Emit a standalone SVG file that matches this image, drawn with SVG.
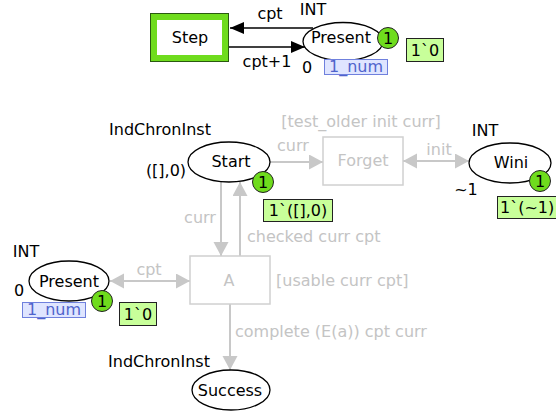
<svg xmlns="http://www.w3.org/2000/svg" width="556" height="417" viewBox="0 0 556 417">
<defs>
<marker id="ab" markerUnits="userSpaceOnUse" markerWidth="16" markerHeight="14" refX="14" refY="6" orient="auto-start-reverse"><path d="M0,0 L14,6 L0,12 Z" fill="#000"/></marker>
<marker id="ag" markerUnits="userSpaceOnUse" markerWidth="16" markerHeight="16" refX="14" refY="7.5" orient="auto-start-reverse"><path d="M0,0 L14,7.5 L0,15 Z" fill="#c8c8c8"/></marker>
<style>
text{font-family:"DejaVu Sans","Verdana",sans-serif;font-size:16px;fill:#000}
.g{fill:#c4c4c4}
.m{text-anchor:middle}
.place{fill:#fff;stroke:#000;stroke-width:1.3}
.trans{fill:#fff;stroke:#d0d0d0;stroke-width:1.5}
.tok{fill:#6fdc1d;stroke:#222;stroke-width:1}
.mark{fill:#c8ff9a;stroke:#222;stroke-width:1}
.fus{fill:#dfe5ff;stroke:#6f80dd;stroke-width:1}
.fust{fill:#4f63cc}
.cb{stroke:#000;stroke-width:1.5;fill:none}
.cg{stroke:#c8c8c8;stroke-width:2;fill:none}
</style>
</defs>
<g id="connectors">
<line class="cb" x1="313" y1="28" x2="230" y2="28" marker-end="url(#ab)"/>
<line class="cb" x1="229" y1="47" x2="305" y2="47" marker-end="url(#ab)"/>
<line class="cg" x1="270" y1="162" x2="323" y2="162" marker-end="url(#ag)"/>
<line class="cg" x1="403" y1="161" x2="469" y2="161" marker-start="url(#ag)" marker-end="url(#ag)"/>
<line class="cg" x1="221" y1="181" x2="221" y2="256" marker-end="url(#ag)"/>
<line class="cg" x1="240" y1="256" x2="240" y2="182" marker-end="url(#ag)"/>
<line class="cg" x1="110" y1="281" x2="190" y2="281" marker-start="url(#ag)" marker-end="url(#ag)"/>
<line class="cg" x1="230" y1="304" x2="230" y2="370" marker-end="url(#ag)"/>
<text x="270" y="19" class="m">cpt</text>
<text x="267" y="67" class="m">cpt+1</text>
<text x="277" y="151" class="g">curr</text>
<text x="439" y="155" class="g m">init</text>
<text x="200" y="223" class="g m">curr</text>
<text x="247" y="242" class="g">checked curr cpt</text>
<text x="149" y="275" class="g m">cpt</text>
<text x="235" y="337" class="g">complete (E(a)) cpt curr</text>
</g>
<g id="step">
<rect x="150.5" y="13.5" width="78" height="48" fill="#fff" stroke="#2a5a10" stroke-width="1"/>
<rect x="154" y="17" width="71" height="41" fill="none" stroke="#6fdc1d" stroke-width="6"/>
<text x="190" y="43" class="m">Step</text>
</g>
<g id="present-top">
<ellipse class="place" cx="343" cy="41.5" rx="40" ry="19"/>
<text x="341" y="43" class="m">Present</text>
<text x="313" y="15" class="m">INT</text>
<text x="307" y="73" class="m">0</text>
<rect class="fus" x="324.5" y="59.5" width="63" height="15"/>
<text x="356" y="72" class="m fust">1_num</text>
<circle class="tok" cx="388" cy="38" r="10.5"/>
<text x="388" y="44" class="m">1</text>
<rect class="mark" x="406.5" y="38.5" width="37" height="23"/>
<text x="425" y="56" class="m">1`0</text>
</g>
<g id="start">
<ellipse class="place" cx="229" cy="162" rx="41" ry="20"/>
<text x="231" y="167" class="m">Start</text>
<text x="160" y="135" class="m">IndChronInst</text>
<text x="166" y="176" class="m">([],0)</text>
<circle class="tok" cx="263" cy="182" r="10.5"/>
<text x="263" y="188" class="m">1</text>
<rect class="mark" x="263.5" y="199.5" width="69" height="22"/>
<text x="298" y="216" class="m">1`([],0)</text>
</g>
<g id="forget">
<rect class="trans" x="323" y="137" width="80" height="48"/>
<text x="363" y="166" class="g m">Forget</text>
<text x="361" y="127" class="g m">[test_older init curr]</text>
</g>
<g id="wini">
<ellipse class="place" cx="510" cy="163" rx="41" ry="20"/>
<text x="511" y="168" class="m">Wini</text>
<text x="485" y="136" class="m">INT</text>
<text x="466" y="195" class="m">~1</text>
<circle class="tok" cx="540" cy="181" r="10.5"/>
<text x="540" y="187" class="m">1</text>
<rect class="mark" x="497.5" y="196.5" width="62" height="22"/>
<text x="500" y="213">1`(~1)</text>
</g>
<g id="a">
<rect class="trans" x="190" y="256" width="80" height="48"/>
<text x="229" y="286" class="g m">A</text>
<text x="276" y="286" class="g">[usable curr cpt]</text>
</g>
<g id="present-bottom">
<ellipse class="place" cx="69" cy="281" rx="40" ry="20"/>
<text x="69" y="287" class="m">Present</text>
<text x="26" y="257" class="m">INT</text>
<text x="19" y="296" class="m">0</text>
<rect class="fus" x="22.5" y="302.5" width="63" height="15"/>
<text x="54" y="315" class="m fust">1_num</text>
<circle class="tok" cx="102" cy="301" r="10.5"/>
<text x="102" y="307" class="m">1</text>
<rect class="mark" x="119.5" y="302.5" width="37" height="23"/>
<text x="138" y="320" class="m">1`0</text>
</g>
<g id="success">
<ellipse class="place" cx="231" cy="390" rx="39" ry="20"/>
<text x="230" y="396" class="m">Success</text>
<text x="159" y="367" class="m">IndChronInst</text>
</g>
</svg>
